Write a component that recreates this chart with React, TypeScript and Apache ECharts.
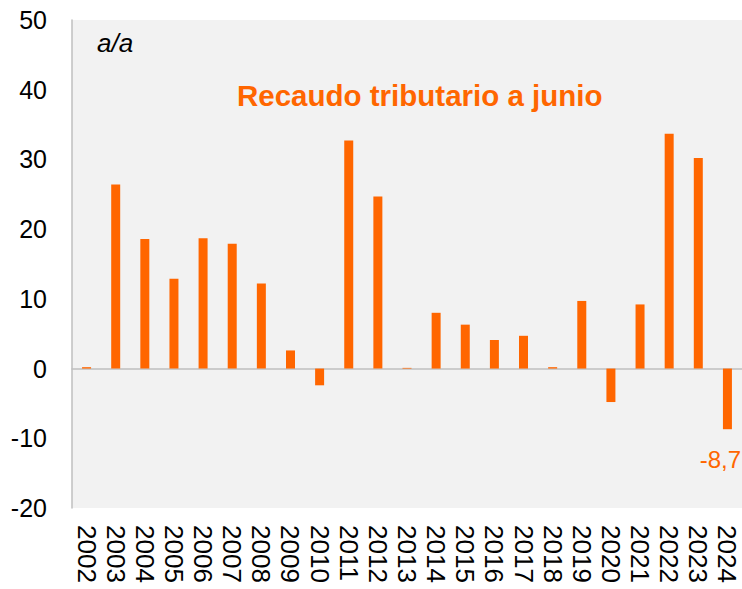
import React, { useEffect, useRef } from "react";
import * as echarts from "echarts";

const years = [
  "2002", "2003", "2004", "2005", "2006", "2007", "2008", "2009", "2010", "2011", "2012",
  "2013", "2014", "2015", "2016", "2017", "2018", "2019", "2020", "2021", "2022", "2023", "2024",
];
const growth = [
  0.2, 26.4, 18.6, 12.9, 18.7, 17.9, 12.2, 2.6, -2.4, 32.7, 24.7,
  0.1, 8.0, 6.3, 4.1, 4.7, 0.2, 9.7, -4.8, 9.2, 33.7, 30.2, -8.7,
];
const labeledYears = ["2024"];
const chartTitle = "Recaudo tributario a junio";
const unitLabel = "a/a";

const ORANGE = "#FF6600";
const FONT = "'Liberation Sans', Arial, sans-serif";

export default function App() {
  const ref = useRef<HTMLDivElement>(null);
  useEffect(() => {
    if (!ref.current) return;
    const chart = echarts.init(ref.current, undefined, { renderer: "svg" });
    chart.setOption({
      animation: false,
      backgroundColor: "#ffffff",
      textStyle: { fontFamily: FONT },
      title: [
        {
          text: chartTitle,
          left: 237,
          top: 80,
          padding: 0,
          textStyle: { color: ORANGE, fontSize: 29.5, fontWeight: "bold", fontFamily: FONT },
        },
        {
          text: unitLabel,
          left: 97,
          top: 30,
          padding: 0,
          textStyle: { color: "#000", fontSize: 26, fontWeight: "normal", fontStyle: "italic", fontFamily: FONT },
        },
      ],
      grid: {
        left: 72,
        right: 0,
        top: 20,
        bottom: 81,
        show: true,
        backgroundColor: "#f2f2f2",
        borderWidth: 0,
      },
      xAxis: {
        type: "category",
        data: years,
        axisLine: { show: true, onZero: true, lineStyle: { color: "#bfbfbf", width: 1.5 } },
        axisTick: { show: false },
        axisLabel: {
          rotate: -90,
          interval: 0,
          margin: 17,
          fontSize: 26,
          color: "#000",
          fontFamily: FONT,
        },
      },
      yAxis: {
        type: "value",
        min: -20,
        max: 50,
        interval: 10,
        axisLine: { show: true, lineStyle: { color: "#bfbfbf", width: 1.5 } },
        axisTick: { show: false },
        splitLine: { show: false },
        axisLabel: { fontSize: 25, color: "#000", margin: 25, fontFamily: FONT },
      },
      series: [
        {
          type: "bar",
          barWidth: 9,
          data: growth.map((v, i) => ({
            value: v,
            label: labeledYears.includes(years[i])
              ? {
                  show: true,
                  position: "outside",
                  distance: 18,
                  offset: [-7, 0],
                  fontSize: 24,
                  color: ORANGE,
                  fontFamily: FONT,
                  formatter: (p: any) => String(p.value).replace(".", ","),
                }
              : { show: false },
          })),
          itemStyle: { color: ORANGE },
        },
      ],
    });
    return () => chart.dispose();
  }, []);
  return (
    <div
      ref={ref}
      style={{ position: "fixed", left: 0, top: 0, width: 742, height: 589, background: "#fff" }}
    />
  );
}
